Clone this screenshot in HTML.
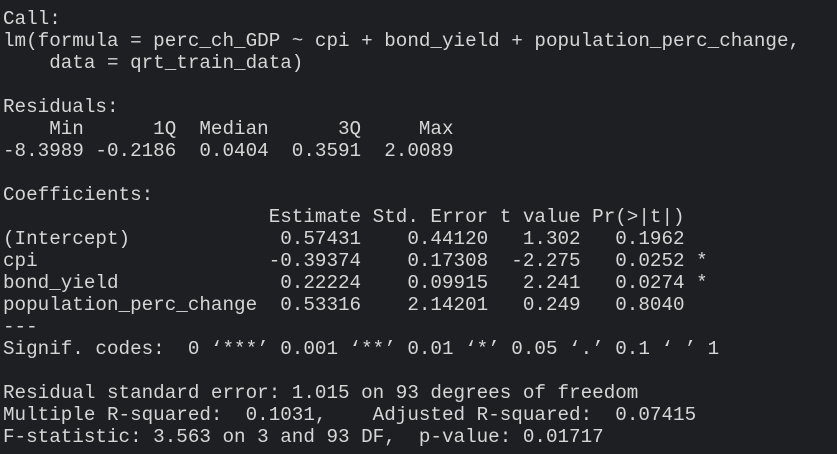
<!DOCTYPE html>
<html><head><meta charset="utf-8"><style>
html,body{margin:0;padding:0;background:#1e1f22;width:837px;height:454px;overflow:hidden}
pre{margin:0;position:absolute;left:3px;top:8px;font-family:"Liberation Mono","DejaVu Sans Mono",monospace;font-size:19.25px;line-height:22px;color:#d6d6d6;white-space:pre}
</style></head><body>
<pre>Call:
lm(formula = perc_ch_GDP ~ cpi + bond_yield + population_perc_change,
    data = qrt_train_data)

Residuals:
    Min      1Q  Median      3Q     Max 
-8.3989 -0.2186  0.0404  0.3591  2.0089 

Coefficients:
                       Estimate Std. Error t value Pr(&gt;|t|)  
(Intercept)             0.57431    0.44120   1.302   0.1962  
cpi                    -0.39374    0.17308  -2.275   0.0252 *
bond_yield              0.22224    0.09915   2.241   0.0274 *
population_perc_change  0.53316    2.14201   0.249   0.8040  
---
Signif. codes:  0 ‘***’ 0.001 ‘**’ 0.01 ‘*’ 0.05 ‘.’ 0.1 ‘ ’ 1

Residual standard error: 1.015 on 93 degrees of freedom
Multiple R-squared:  0.1031,	Adjusted R-squared:  0.07415 
F-statistic: 3.563 on 3 and 93 DF,  p-value: 0.01717</pre>
</body></html>
